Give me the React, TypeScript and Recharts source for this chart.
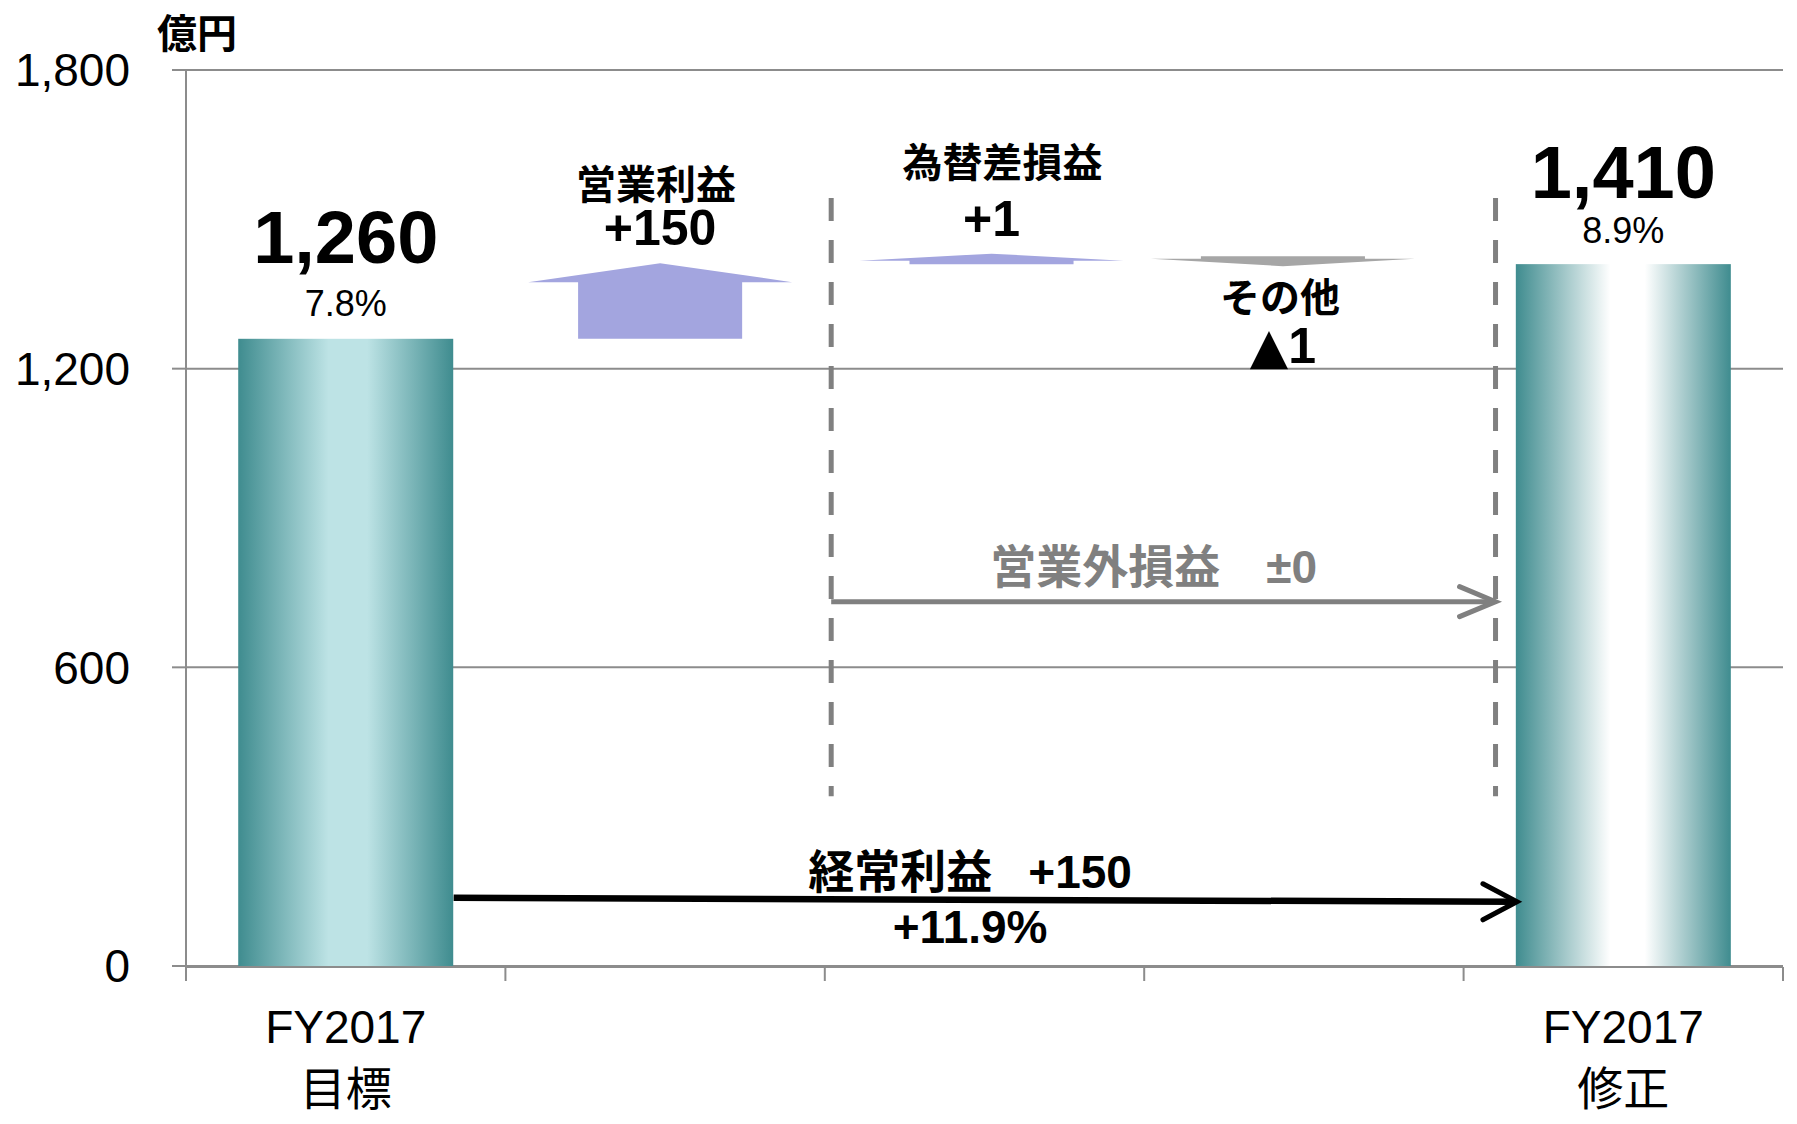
import { BarChart, Bar, XAxis, YAxis, CartesianGrid, ReferenceLine } from 'recharts';

// waterfall: FY2017 target -> revised ordinary profit (億円)
const categories = ['FY2017 目標', '営業利益', '為替差損益', 'その他', 'FY2017 修正'];
const startValues = [0, 1260, 1410, 1411, 0];
const endValues = [1260, 1410, 1411, 1410, 1410];
const kinds = ['total', 'up', 'up', 'down', 'total'];
const valueLabels = ['1,260', '+150', '+1', '▲1', '1,410'];
const marginLabels = ['7.8%', '', '', '', '8.9%'];
const itemNames = ['', '営業利益', '為替差損益', 'その他', ''];
const axisLabels = ['FY2017\n目標', '', '', '', 'FY2017\n修正'];
const yTicks = [0, 600, 1200, 1800];
const boundaryTicks = [0, 1, 2, 3, 4, 5];

// annotations, x in category units
const dividerXs = [2.02, 4.1];
const dividerRange = [341, 1543];
const nonOpArrow = { from: 2.02, to: 4.1, value: 732, labelAt: 3.03, label: '営業外損益　±0' };
const ordinaryArrow = {
  from: 0.838,
  to: 4.167,
  startValue: 137,
  endValue: 129,
  labelAt: 2.455,
  name: '経常利益',
  value: '+150',
  rate: '+11.9%',
};

const FONT = "'Liberation Sans', Arial, 'Noto Sans CJK JP', sans-serif";
const GRID = '#8c8c8c';
const UP_FILL = '#a3a5df';
const DOWN_FILL = '#a6a6a6';

// label baselines relative to the bar end, and small horizontal nudges
const labelDy = [
  [-76, -23],
  [-65, -19],
  [-87, -28],
  [48, 99],
  [-66, -21],
];
const groupDx = [0, -5, 7, -21, 0];
const nameDx = [0, -4, 11, -3, 0];

const data = categories.map((name, i) => ({
  name,
  idx: i,
  range: [Math.min(startValues[i], endValues[i]), Math.max(startValues[i], endValues[i])],
}));

const ValueText = ({ text }: { text: string }) => {
  if (text.startsWith('▲')) {
    return (
      <>
        <tspan fontFamily="'DejaVu Sans', sans-serif">▲</tspan>
        <tspan>{text.slice(1)}</tspan>
      </>
    );
  }
  return <>{text}</>;
};

const renderShape = (props: any) => {
  const { x, y, width, height, payload } = props;
  const i = payload.idx;
  const kind = kinds[i];
  const top = Math.min(y, y + height);
  const bottom = Math.max(y, y + height);
  const cx = x + width / 2 + groupDx[i];
  const [d1, d2] = labelDy[i];

  if (kind === 'total') {
    return (
      <g>
        <rect x={x} y={top} width={width} height={bottom - top} fill={`url(#barGrad${i})`} />
        <text x={cx} y={top + d1} textAnchor="middle" fontSize={74} fontWeight="bold" fill="#000">
          {valueLabels[i]}
        </text>
        <text x={cx} y={top + d2} textAnchor="middle" fontSize={36} fill="#000">
          {marginLabels[i]}
        </text>
      </g>
    );
  }

  const bw = width * 0.763;
  const hw = width * 1.228;
  const small = bottom - top < 20;
  let pts: number[][];
  let anchor: number;
  if (kind === 'up') {
    const base = bottom;
    const apex = small ? bottom - 10.5 : top - 1;
    const neck = small ? bottom - 3.5 : top + 18;
    pts = [
      [cx - bw / 2, base], [cx - bw / 2, neck], [cx - hw / 2, neck], [cx, apex],
      [cx + hw / 2, neck], [cx + bw / 2, neck], [cx + bw / 2, base],
    ];
    anchor = small ? bottom : top;
  } else {
    const apex = small ? bottom + 2 : bottom;
    const tail = small ? apex - 10 : top;
    const neck = small ? tail + 2.5 : bottom - 18;
    pts = [
      [cx - bw / 2, tail], [cx - bw / 2, neck], [cx - hw / 2, neck], [cx, apex],
      [cx + hw / 2, neck], [cx + bw / 2, neck], [cx + bw / 2, tail],
    ];
    anchor = bottom;
  }
  return (
    <g>
      <polygon points={pts.map((p) => p.join(',')).join(' ')} fill={kind === 'up' ? UP_FILL : DOWN_FILL} />
      <text x={cx + nameDx[i]} y={anchor + d1} textAnchor="middle" fontSize={40} fontWeight="bold" fill="#000">
        {itemNames[i]}
      </text>
      <text x={cx} y={anchor + d2} textAnchor="middle" fontSize={50} fontWeight="bold" fill="#000">
        <ValueText text={valueLabels[i]} />
      </text>
    </g>
  );
};

const CategoryTick = (props: any) => {
  const { x, y, index } = props;
  const lines = (axisLabels[index] || '').split('\n');
  if (!lines[0]) return <g />;
  return (
    <g>
      <text x={x} y={y + 77} textAnchor="middle" fontSize={46} fill="#000" fontFamily={FONT}>
        {lines[0]}
      </text>
      <text x={x} y={y + 139} textAnchor="middle" fontSize={46} fill="#000" fontFamily={FONT}>
        {lines[1]}
      </text>
    </g>
  );
};

const NoTick = () => <g />;

const lerp = (a: number, b: number, t: number) => a + (b - a) * t;

const NonOpShape = (p: any) => {
  const { x1, y1, x2, y2 } = p;
  const t = (nonOpArrow.labelAt - nonOpArrow.from) / (nonOpArrow.to - nonOpArrow.from);
  const lx = lerp(x1, x2, t);
  return (
    <g>
      <line x1={x1} y1={y1} x2={x2 - 2} y2={y2} stroke="#808080" strokeWidth={5} />
      <polyline
        points={`${x2 - 36},${y2 - 15} ${x2},${y2} ${x2 - 36},${y2 + 15}`}
        fill="none"
        stroke="#808080"
        strokeWidth={5}
        strokeLinecap="round"
      />
      <text x={lx} y={y1 - 19} textAnchor="middle" fontSize={46} fontWeight="bold" fill="#808080">
        {nonOpArrow.label}
      </text>
    </g>
  );
};

const OrdinaryShape = (p: any) => {
  const { x1, y1, x2, y2 } = p;
  const t = (ordinaryArrow.labelAt - ordinaryArrow.from) / (ordinaryArrow.to - ordinaryArrow.from);
  const lx = lerp(x1, x2, t);
  const ly = lerp(y1, y2, t);
  return (
    <g>
      <line x1={x1} y1={y1} x2={x2 - 3} y2={y2} stroke="#000" strokeWidth={6.5} />
      <polyline
        points={`${x2 - 34},${y2 - 18} ${x2},${y2} ${x2 - 34},${y2 + 18}`}
        fill="none"
        stroke="#000"
        strokeWidth={5}
        strokeLinecap="round"
      />
      <text x={lx} y={ly - 12} textAnchor="middle" fontSize={46} fontWeight="bold" fill="#000">
        <tspan>{ordinaryArrow.name}</tspan>
        <tspan dx={36}>{ordinaryArrow.value}</tspan>
      </text>
      <text x={lx} y={ly + 43} textAnchor="middle" fontSize={46} fontWeight="bold" fill="#000">
        {ordinaryArrow.rate}
      </text>
    </g>
  );
};

export default function App() {
  return (
    <div style={{ position: 'absolute', left: 0, top: 0, fontFamily: FONT }}>
      <BarChart
        width={1797}
        height={1124}
        data={data}
        margin={{ top: 70, right: 14, bottom: 156, left: 0 }}
        barCategoryGap="16.35%"
        style={{ fontFamily: FONT }}
      >
        <defs>
          <linearGradient id="barGrad0" x1="0" y1="0" x2="1" y2="0">
            <stop offset="0" stopColor="#3f8c8f" />
            <stop offset="0.42" stopColor="#bde3e5" />
            <stop offset="0.6" stopColor="#bde3e5" />
            <stop offset="1" stopColor="#3f8c8f" />
          </linearGradient>
          <linearGradient id="barGrad4" x1="0" y1="0" x2="1" y2="0">
            <stop offset="0" stopColor="#3f8c8f" />
            <stop offset="0.44" stopColor="#ffffff" />
            <stop offset="0.6" stopColor="#ffffff" />
            <stop offset="1" stopColor="#3f8c8f" />
          </linearGradient>
        </defs>
        <CartesianGrid xAxisId="num" vertical={false} stroke={GRID} strokeWidth={2} />
        <XAxis
          xAxisId="num"
          dataKey="idx"
          type="number"
          domain={[0, 5]}
          allowDataOverflow
          ticks={boundaryTicks}
          interval={0}
          tick={NoTick}
          tickSize={14}
          height={1}
          axisLine={{ stroke: GRID, strokeWidth: 2 }}
          tickLine={{ stroke: GRID, strokeWidth: 2 }}
        />
        <XAxis
          xAxisId="cat"
          dataKey="name"
          interval={0}
          height={1}
          tickSize={0}
          tickMargin={0}
          axisLine={false}
          tickLine={false}
          tick={<CategoryTick />}
        />
        <YAxis
          width={186}
          domain={[0, 1800]}
          ticks={yTicks}
          interval={0}
          tickSize={14}
          tickMargin={42}
          tickFormatter={(v: number) => v.toLocaleString('en-US')}
          tick={{ fontSize: 46, fill: '#000', fontFamily: FONT }}
          axisLine={{ stroke: GRID, strokeWidth: 2 }}
          tickLine={{ stroke: GRID, strokeWidth: 2 }}
        />
        <Bar xAxisId="cat" dataKey="range" shape={renderShape} isAnimationActive={false} />
        {dividerXs.map((dx) => (
          <ReferenceLine
            key={dx}
            xAxisId="num"
            segment={[{ x: dx, y: dividerRange[1] }, { x: dx, y: dividerRange[0] }]}
            stroke="#808080"
            strokeWidth={5}
            strokeDasharray="23 19"
          />
        ))}
        <ReferenceLine
          xAxisId="num"
          segment={[{ x: nonOpArrow.from, y: nonOpArrow.value }, { x: nonOpArrow.to, y: nonOpArrow.value }]}
          shape={NonOpShape}
        />
        <ReferenceLine
          xAxisId="num"
          segment={[
            { x: ordinaryArrow.from, y: ordinaryArrow.startValue },
            { x: ordinaryArrow.to, y: ordinaryArrow.endValue },
          ]}
          shape={OrdinaryShape}
        />
        <text x={157} y={48} fontSize={40} fontWeight="bold" fill="#000" fontFamily={FONT}>
          億円
        </text>
      </BarChart>
    </div>
  );
}
